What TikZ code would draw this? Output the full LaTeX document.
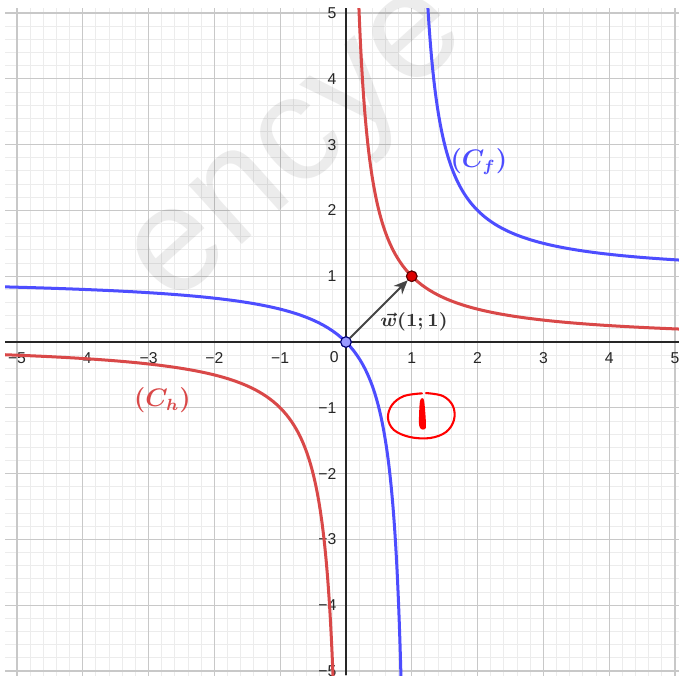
\documentclass[tikz,border=0pt]{standalone}
\usepackage{fontspec}
\newfontfamily\ticksf{Liberation Sans}
\newfontfamily\wmsf{Liberation Sans}
\usetikzlibrary{arrows.meta}
\definecolor{gmajor}{HTML}{C8C8C8}
\definecolor{gminor}{HTML}{ECECEC}
\definecolor{cred}{HTML}{D94848}
\definecolor{cblue}{HTML}{4D4DFF}
\definecolor{ptred}{HTML}{DD0000}
\definecolor{ptblue}{HTML}{9999FF}
\definecolor{vecgray}{HTML}{444444}
\begin{document}
\begin{tikzpicture}[x=1cm,y=1cm,
  minorgrid/.style={draw=gminor,line width=0.4pt},
  majorgrid/.style={draw=gmajor,line width=0.5pt},
  axisline/.style={draw=black!85,line width=0.7pt},
  ticklbl/.style={font=\ticksf\fontsize{6.8}{8}\selectfont,text=black!85,inner sep=0pt},
  redcurve/.style={draw=cred,line width=1.3pt},
  bluecurve/.style={draw=cblue,line width=1.3pt},
  vecarrow/.style={draw=vecgray,line width=0.9pt,-{Stealth[length=2.1mm,width=1.8mm]}},
  pointdot/.style={circle,inner sep=0pt,minimum size=0.16cm,line width=0.45pt},
  curvelbl/.style={font=\boldmath\fontsize{10.5}{12}\selectfont,inner sep=0pt},
  annot/.style={draw=red,line width=0.9pt,line cap=round,line join=round}
]
\useasboundingbox (-5.258,-5.061) rectangle (5.061,5.198);
\fill[white] (-5.258,-5.061) rectangle (5.061,5.198);
\begin{scope}
\clip (-5.18,-5.061) rectangle (5.061,5.07);
\draw[minorgrid] (-5.4,-5.4) grid[step=0.2] (5.4,5.4);
\draw[majorgrid] (-5.4,-5.4) grid[step=1] (5.4,5.4);
\end{scope}
% watermark
\begin{scope}
\clip (-5.258,-5.061) rectangle (5.061,5.198);
\node[rotate=42,anchor=base west,inner sep=0pt,text=black,text opacity=0.075,
  font=\wmsf\fontsize{65}{65}\selectfont] (wm) at (-2.648,0.527) {encye};
\end{scope}
% axes
\coordinate (xl) at (-5.18,0);
\coordinate (xr) at (5.061,0);
\coordinate (yb) at (0,-5.061);
\coordinate (yt) at (0,5.07);
\draw[axisline] (xl) -- (xr);
\draw[axisline] (yb) -- (yt);
% tick labels
\foreach \i in {1,...,5}{
  \node[ticklbl] (xlp\i) at (\i,-0.24) {\i};
  \node[ticklbl] (xlm\i) at (-\i,-0.24) {−\i};
  \node[ticklbl,anchor=east] (ylp\i) at (-0.14,\i) {\i};
  \node[ticklbl,anchor=east] (ylm\i) at (-0.14,-\i) {−\i};
}
\node[ticklbl] (zero) at (-0.18,-0.23) {0};
% curves
\begin{scope}
\clip (-5.18,-5.061) rectangle (5.061,5.07);
% C_h : y = 1/x
\draw[redcurve] plot[domain=5.3:1,samples=80,variable=\t] ({1/\t},\t)
  -- plot[domain=1:5.2,samples=80,variable=\t] (\t,{1/\t});
\draw[redcurve] plot[domain=-5.3:-1,samples=80,variable=\t] (\t,{1/\t})
  -- plot[domain=-1:-5.3,samples=80,variable=\t] ({1/\t},\t);
% C_f : y = 1 + 1/(x-1)
\draw[bluecurve] plot[domain=4.3:1,samples=80,variable=\t] ({1+1/\t},{1+\t})
  -- plot[domain=1:4.2,samples=80,variable=\t] ({1+\t},{1+1/\t});
\draw[bluecurve] plot[domain=-6.3:-1,samples=80,variable=\t] ({1+\t},{1+1/\t})
  -- plot[domain=-1:-6.3,samples=80,variable=\t] ({1+1/\t},{1+\t});
\end{scope}
% labels of curves
\node[curvelbl,text=cblue] (Cf) at (2.02,2.74) {$(C_f)$};
\node[curvelbl,text=cred] (Ch) at (-2.79,-0.88) {$(C_h)$};
% points and vector
\node[pointdot,fill=ptblue,draw=blue!45!black] (O) at (0,0) {};
\node[pointdot,fill=ptred,draw=red!35!black] (W) at (1,1) {};
\draw[vecarrow] (O) -- (W);
\node[pointdot,fill=ptblue,draw=blue!45!black] (O2) at (0,0) {};
\node[pointdot,fill=ptred,draw=red!35!black] (W2) at (1,1) {};
\node[font=\boldmath\fontsize{7.6}{9}\selectfont,text=black!80,inner sep=0pt] (wlbl) at (1.033,0.31) {$\vec{w}(1;1)$};
% hand-drawn annotation
\draw[annot] plot[smooth,tension=0.6] coordinates {
  (1.216,-0.775) (1.474,-0.821) (1.626,-0.973) (1.641,-1.185) (1.520,-1.368)
  (1.277,-1.459) (0.973,-1.444) (0.729,-1.337) (0.638,-1.155) (0.699,-0.957)
  (0.881,-0.821) (1.155,-0.780)};
\fill[red] plot[smooth cycle,tension=0.5] coordinates {
  (1.125,-0.897) (1.185,-0.881) (1.216,-1.246) (1.201,-1.322) (1.140,-1.322) (1.109,-1.231)};
\end{tikzpicture}
\end{document}
